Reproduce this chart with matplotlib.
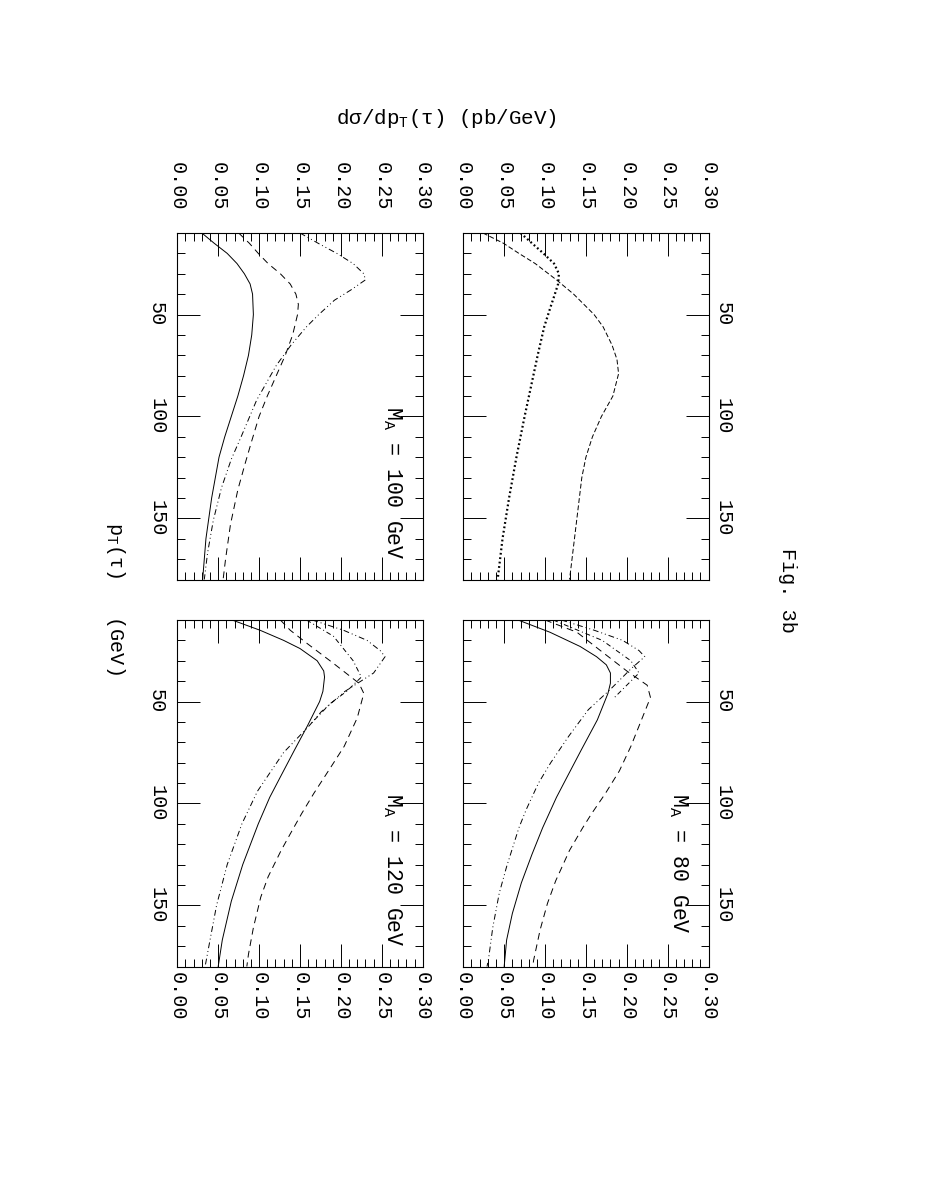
import numpy as np
import matplotlib
matplotlib.use("Agg")
import matplotlib.pyplot as plt
from matplotlib.ticker import MultipleLocator, FixedLocator

plt.rcParams['font.family'] = ['Liberation Mono', 'DejaVu Sans']
plt.rcParams['mathtext.fontset'] = 'custom'
plt.rcParams['mathtext.rm'] = 'Liberation Mono'
plt.rcParams['mathtext.it'] = 'Liberation Mono'

# ---------------- data ----------------
# x-axis of every panel: d sigma / d pT (pb/GeV); y-axis: pT(tau) (GeV)
xticks_vals = [0.00, 0.05, 0.10, 0.15, 0.20, 0.25, 0.30]
xtick_labels = ["0.00", "0.05", "0.10", "0.15", "0.20", "0.25", "0.30"]
pt_ticks = [50, 100, 150]
pt_labels = ["50", "100", "150"]

# Panel A (top-left in page): M_A = 100 GeV
a_pt_solid = [10, 15, 20, 25, 30, 35, 40, 50, 60, 70, 80, 90, 100, 110, 120, 140, 160, 180]
a_solid = [0.030, 0.045, 0.061, 0.073, 0.082, 0.089, 0.092, 0.093, 0.091, 0.087, 0.081, 0.074, 0.066, 0.058, 0.051, 0.042, 0.035, 0.031]
a_pt_dash = [10, 15, 20, 25, 30, 35, 40, 45, 50, 60, 70, 80, 90, 100, 112, 123, 136, 153, 170, 180]
a_dash = [0.075, 0.088, 0.099, 0.111, 0.126, 0.138, 0.145, 0.148, 0.147, 0.141, 0.132, 0.121, 0.110, 0.100, 0.091, 0.083, 0.074, 0.065, 0.059, 0.056]
a_pt_dd = [10, 15, 20, 25, 30, 33, 38, 43, 50, 56, 65, 75, 92, 110, 121, 135, 151, 167, 180]
a_dd = [0.150, 0.172, 0.195, 0.215, 0.228, 0.230, 0.212, 0.192, 0.173, 0.158, 0.139, 0.121, 0.097, 0.078, 0.066, 0.054, 0.044, 0.037, 0.033]

# Panel B (top-right in page): no label, dotted and fine dashed
b_pt_dot = [10, 15, 20, 25, 30, 35, 40, 46, 56, 70, 85, 100, 120, 140, 160, 180]
b_dot = [0.070, 0.084, 0.098, 0.111, 0.117, 0.116, 0.112, 0.107, 0.099, 0.091, 0.083, 0.075, 0.065, 0.056, 0.048, 0.042]
b_pt_dash = [10, 15, 20, 25, 33, 40, 50, 56, 65, 72, 79, 90, 100, 110, 120, 130, 140, 150, 160, 170, 180]
b_dash = [0.024, 0.049, 0.068, 0.088, 0.114, 0.135, 0.160, 0.171, 0.182, 0.188, 0.190, 0.183, 0.169, 0.158, 0.150, 0.145, 0.142, 0.139, 0.136, 0.133, 0.130]

# Panel C (bottom-left in page): M_A = 120 GeV
c_pt_solid = [10, 15, 20, 24, 30, 35, 38, 45, 50, 62, 74, 87, 97, 110, 130, 148, 167, 180]
c_solid = [0.067, 0.101, 0.130, 0.150, 0.171, 0.179, 0.180, 0.178, 0.174, 0.159, 0.143, 0.126, 0.113, 0.099, 0.080, 0.066, 0.055, 0.050]
c_pt_dash = [10, 15, 21, 31, 41, 46, 58, 72, 82, 95, 105, 115, 123, 136, 146, 161, 174, 180]
c_dash = [0.126, 0.138, 0.157, 0.190, 0.222, 0.228, 0.220, 0.204, 0.188, 0.167, 0.152, 0.138, 0.127, 0.111, 0.102, 0.093, 0.087, 0.085]
c_pt_dd1 = [10, 15, 20, 25, 28, 36, 45, 55, 62, 75, 94, 110, 130, 150, 167, 180]
c_dd1 = [0.165, 0.203, 0.232, 0.248, 0.254, 0.240, 0.205, 0.176, 0.161, 0.130, 0.098, 0.079, 0.061, 0.048, 0.040, 0.034]
c_pt_dd2 = [10, 18, 30, 38, 45, 51, 61]
c_dd2 = [0.158, 0.191, 0.215, 0.225, 0.207, 0.187, 0.163]

# Panel D (bottom-right in page): M_A = 80 GeV
d_pt_solid = [10, 16, 23, 28, 32, 36, 41, 46, 59, 74, 87, 97, 112, 125, 139, 154, 167, 180]
d_solid = [0.067, 0.106, 0.143, 0.163, 0.175, 0.180, 0.180, 0.177, 0.164, 0.144, 0.127, 0.114, 0.097, 0.084, 0.071, 0.060, 0.053, 0.050]
d_pt_dash = [10, 16, 26, 35, 42, 48, 61, 72, 84, 95, 105, 112, 123, 138, 149, 162, 177, 180]
d_dash = [0.100, 0.139, 0.171, 0.200, 0.225, 0.229, 0.216, 0.205, 0.191, 0.174, 0.157, 0.146, 0.130, 0.113, 0.103, 0.094, 0.086, 0.085]
d_pt_dd1 = [10, 15, 20, 25, 28, 34, 44, 54, 67, 80, 90, 103, 112, 131, 144, 161, 176, 180]
d_dd1 = [0.120, 0.160, 0.195, 0.215, 0.222, 0.205, 0.180, 0.153, 0.129, 0.107, 0.092, 0.077, 0.068, 0.053, 0.044, 0.036, 0.031, 0.029]
d_pt_dd2 = [10, 20, 30, 36, 42, 48]
d_dd2 = [0.110, 0.170, 0.205, 0.215, 0.200, 0.185]

panel_labels = ["M$_{\\rm A}$ = 100 GeV", "", "M$_{\\rm A}$ = 120 GeV", "M$_{\\rm A}$ = 80 GeV"]

# ---------------- figure ----------------
W, H = 927, 1199
fig = plt.figure(figsize=(W / 100, H / 100), dpi=100)

def frac(x0, y0, x1, y1):
    return [x0 / W, 1 - y1 / H, (x1 - x0) / W, (y1 - y0) / H]

FS = 14.5
boxes = {
    "A": frac(177.3, 233, 422.7, 579.5),
    "B": frac(463.3, 233, 708.5, 579.5),
    "C": frac(177.3, 620, 422.7, 966.5),
    "D": frac(463.3, 620, 708.5, 966.5),
}

dash_style = (0, (7, 5))
dd_style = (0, (6, 3, 1, 3, 1, 3))
dd2_style = (0, (5, 3, 1, 3))
fine_dash = (0, (5, 2.5))

def setup(ax, top_labels, left_labels):
    ax.set_xlim(0, 0.30)
    ax.set_ylim(180, 10)
    ax.xaxis.set_major_locator(FixedLocator(xticks_vals))
    ax.xaxis.set_minor_locator(MultipleLocator(0.01))
    ax.yaxis.set_major_locator(FixedLocator(pt_ticks))
    ax.yaxis.set_minor_locator(MultipleLocator(10))
    ax.tick_params(which="both", direction="in", top=True, bottom=True,
                   left=True, right=True, width=0.7, color="black")
    ax.tick_params(which="major", length=16.5)
    ax.tick_params(which="minor", length=5.5)
    ax.tick_params(axis="x", labeltop=top_labels, labelbottom=not top_labels,
                   pad=(16 if top_labels else 4), labelsize=FS)
    ax.tick_params(axis="y", labelleft=left_labels, labelright=not left_labels,
                   pad=(8 if left_labels else 4), labelsize=FS)
    ax.set_xticklabels(xtick_labels)
    ax.set_yticklabels(pt_labels)
    for lab in ax.get_xticklabels():
        lab.set_rotation(-90)
        lab.set_ha("center")
    for lab in ax.get_yticklabels():
        lab.set_rotation(-90)
        lab.set_va("center")
    for s in ax.spines.values():
        s.set_linewidth(0.8)

lw = 0.7
axA = fig.add_axes(boxes["A"])
setup(axA, True, True)
axA.plot(a_solid, a_pt_solid, color="black", lw=lw)
axA.plot(a_dash, a_pt_dash, color="black", lw=lw, linestyle=dash_style)
axA.plot(a_dd, a_pt_dd, color="black", lw=lw, linestyle=dd_style)

axB = fig.add_axes(boxes["B"])
setup(axB, True, False)
axB.plot(b_dot, b_pt_dot, color="black", lw=1.6, linestyle=(0, (0.8, 1.2)))
axB.plot(b_dash, b_pt_dash, color="black", lw=lw, linestyle=fine_dash)

axC = fig.add_axes(boxes["C"])
setup(axC, False, True)
axC.plot(c_solid, c_pt_solid, color="black", lw=lw)
axC.plot(c_dash, c_pt_dash, color="black", lw=lw, linestyle=dash_style)
axC.plot(c_dd1, c_pt_dd1, color="black", lw=lw, linestyle=dd_style)
axC.plot(c_dd2, c_pt_dd2, color="black", lw=lw, linestyle=dd2_style)

axD = fig.add_axes(boxes["D"])
setup(axD, False, False)
axD.plot(d_solid, d_pt_solid, color="black", lw=lw)
axD.plot(d_dash, d_pt_dash, color="black", lw=lw, linestyle=dash_style)
axD.plot(d_dd1, d_pt_dd1, color="black", lw=lw, linestyle=dd_style)
axD.plot(d_dd2, d_pt_dd2, color="black", lw=lw, linestyle=dd2_style)

for ax, lab in zip([axA, axB, axC, axD], panel_labels):
    if lab:
        ax.text(0.875, 0.50, lab, transform=ax.transAxes, rotation=-90,
                ha="center", va="top", fontsize=15.5)

fig.text(446 / W, 1 - 118 / H, "d\u03c3/dp$_{\\rm T}$(\u03c4) (pb/GeV)",
         ha="center", va="center", fontsize=15)
fig.text(115 / W, 1 - 598 / H, "p$_{\\rm T}$(\u03c4)   (GeV)", rotation=-90,
         ha="center", va="center", fontsize=FS)
fig.text(787 / W, 1 - 590 / H, "Fig. 3b", rotation=-90,
         ha="center", va="center", fontsize=FS)

fig.savefig("out.png", dpi=100)
